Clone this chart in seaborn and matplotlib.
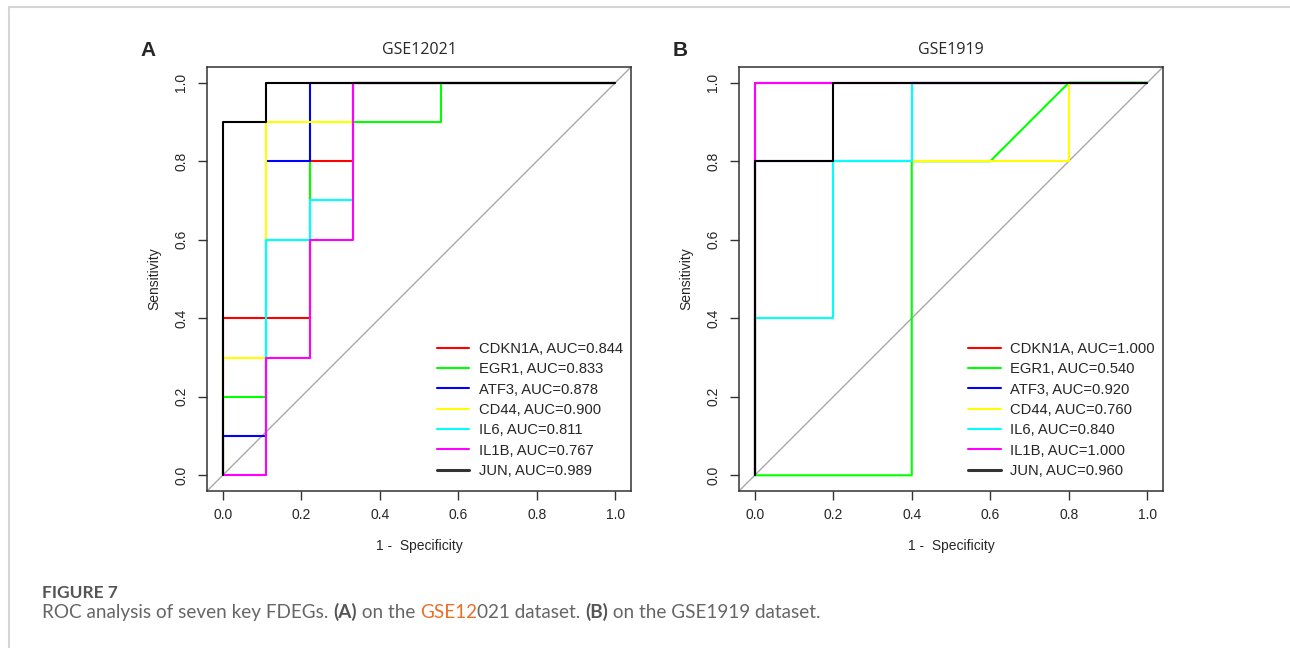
import numpy as np
import pandas as pd
import matplotlib
matplotlib.use("Agg")
import matplotlib.pyplot as plt
from matplotlib.lines import Line2D
import seaborn as sns

# ROC data (1 - specificity, sensitivity)
genes = ["CDKN1A", "EGR1", "ATF3", "CD44", "IL6", "IL1B", "JUN"]
colors = ["#FF0000", "#00FF00", "#0000FF", "#FFFF00", "#00FFFF", "#FF00FF", "#000000"]

a_auc = [0.844, 0.833, 0.878, 0.900, 0.811, 0.767, 0.989]
a_fpr = [
    [0, 0, 0.222, 0.222, 0.333, 0.333, 1],
    [0, 0, 0.111, 0.111, 0.222, 0.222, 0.556, 0.556, 1],
    [0, 0, 0.111, 0.111, 0.222, 0.222, 1],
    [0, 0, 0.111, 0.111, 0.333, 0.333, 1],
    [0, 0.111, 0.111, 0.222, 0.222, 0.333, 0.333, 1],
    [0, 0.111, 0.111, 0.222, 0.222, 0.333, 0.333, 1],
    [0, 0, 0.111, 0.111, 1],
]
a_tpr = [
    [0, 0.4, 0.4, 0.8, 0.8, 1, 1],
    [0, 0.2, 0.2, 0.6, 0.6, 0.9, 0.9, 1, 1],
    [0, 0.1, 0.1, 0.8, 0.8, 1, 1],
    [0, 0.3, 0.3, 0.9, 0.9, 1, 1],
    [0, 0, 0.6, 0.6, 0.7, 0.7, 1, 1],
    [0, 0, 0.3, 0.3, 0.6, 0.6, 1, 1],
    [0, 0.9, 0.9, 1, 1],
]

b_auc = [1.000, 0.540, 0.920, 0.760, 0.840, 1.000, 0.960]
b_fpr = [
    [0, 0, 1],
    [0, 0.4, 0.4, 0.6, 0.8, 1],
    [0, 0, 0.4, 0.4, 1],
    [0, 0, 0.2, 0.2, 0.8, 0.8, 1],
    [0, 0, 0.2, 0.2, 0.4, 0.4, 1],
    [0, 0, 1],
    [0, 0, 0.2, 0.2, 1],
]
b_tpr = [
    [0, 1, 1],
    [0, 0, 0.8, 0.8, 1, 1],
    [0, 0.8, 0.8, 1, 1],
    [0, 0.4, 0.4, 0.8, 0.8, 1, 1],
    [0, 0.4, 0.4, 0.8, 0.8, 1, 1],
    [0, 1, 1],
    [0, 0.8, 0.8, 1, 1],
]

ticks = [0.0, 0.2, 0.4, 0.6, 0.8, 1.0]
tick_labels = ["0.0", "0.2", "0.4", "0.6", "0.8", "1.0"]

W, H = 1290, 648

sns.set_style("white")
plt.rcParams["font.family"] = ["Liberation Sans", "DejaVu Sans"]

fig = plt.figure(figsize=(W / 100, H / 100), dpi=100)
fig.patch.set_facecolor("white")


def draw_panel(left_px, fpr, tpr, auc, title, letter):
    ax = fig.add_axes([left_px / W, (H - 491) / H, 424 / W, 424 / H])
    ax.axline((0, 0), (1, 1), color="#A8A8A8", lw=1.0, zorder=1)
    for i, g in enumerate(genes):
        df = pd.DataFrame({"fpr": fpr[i], "tpr": tpr[i]})
        sns.lineplot(data=df, x="fpr", y="tpr", sort=False, estimator=None,
                     color=colors[i], lw=1.5, ax=ax, zorder=2 + i,
                     label=f"{g}, AUC={auc[i]:.3f}")
    ax.set_xlim(-0.04, 1.04)
    ax.set_ylim(-0.04, 1.04)
    ax.set_xticks(ticks)
    ax.set_xticklabels(tick_labels)
    ax.set_yticks(ticks)
    ax.set_yticklabels(tick_labels, rotation=90, va="center")
    ax.tick_params(direction="out", length=6.5, width=1.0, color="#333333",
                   labelsize=10, pad=6, bottom=True, left=True)
    ax.tick_params(axis="y", pad=7)
    for s in ax.spines.values():
        s.set_color("#333333")
        s.set_linewidth(1.1)
    ax.set_xlabel("1 -  Specificity", fontsize=10)
    ax.set_ylabel("Sensitivity", fontsize=10)
    ax.xaxis.set_label_coords(0.5, -0.113)
    ax.yaxis.set_label_coords(-0.108, 0.5)
    ax.set_title(title, fontsize=11.5, family="Open Sans", pad=9)
    leg = ax.legend(loc="lower right", bbox_to_anchor=(0.981, 0.031),
                    frameon=False, fontsize=10.6, handlelength=2.2,
                    handletextpad=0.65, labelspacing=0.43, borderpad=0,
                    borderaxespad=0)
    for h in leg.get_lines():
        h.set_linewidth(1.5)
    leg.get_lines()[-1].set_linewidth(2.2)
    leg.get_lines()[-1].set_color("#333333")
    fig.text((left_px - 59) / W, 1 - 50 / H, letter, ha="center", va="center",
             fontsize=15, weight="bold", family="Liberation Sans")
    return ax


draw_panel(207, a_fpr, a_tpr, a_auc, "GSE12021", "A")
draw_panel(739, b_fpr, b_tpr, b_auc, "GSE1919", "B")

# page frame lines
fig.add_artist(Line2D([9 / W, 9 / W], [0, 1 - 7 / H], color="#D6D6D6", lw=1.5))
fig.add_artist(Line2D([9 / W, 1], [1 - 7 / H, 1 - 7 / H], color="#D6D6D6", lw=1.5))

# caption
fig.text(42 / W, 1 - 598 / H, "FIGURE 7", fontsize=12.5, weight="bold",
         color="#555555", family="Lato", va="baseline")

renderer = fig.canvas.get_renderer()
parts = [
    ("ROC analysis of seven key FDEGs. ", "normal", "#666666"),
    ("(A)", "bold", "#555555"),
    (" on the ", "normal", "#666666"),
    ("GSE12", "normal", "#E8702A"),
    ("021 dataset. ", "normal", "#666666"),
    ("(B)", "bold", "#555555"),
    (" on the GSE1919 dataset.", "normal", "#666666"),
]
x = 42
for txt, wt, col in parts:
    t = fig.text(x / W, 1 - 618 / H, txt, fontsize=13.6, weight=wt, color=col,
                 family="Lato", va="baseline")
    bb = t.get_window_extent(renderer)
    x = bb.x1

fig.savefig("out.png", dpi=100)
